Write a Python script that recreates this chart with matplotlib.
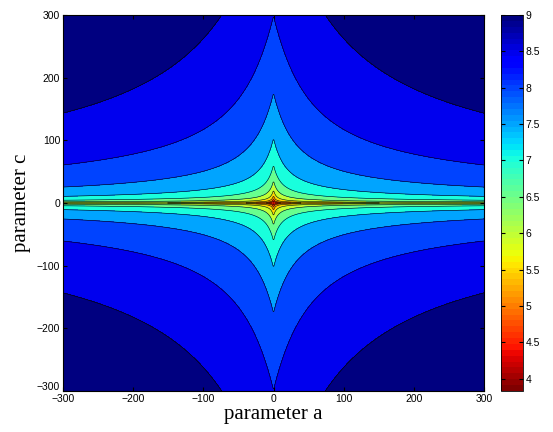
import numpy as np
import matplotlib
matplotlib.use("Agg")
import matplotlib.pyplot as plt
import matplotlib.transforms as mtransforms
from matplotlib.colors import Normalize
from matplotlib.cm import ScalarMappable

# surface: f = K_C*ln|c| + K_A*ln(|a| + MIX*|c|) + OFFSET
K_C, K_A, MIX, OFFSET = 0.571, 0.37, 0.0876, 3.539
VMIN, VMAX = 3.83, 9.0
levels = [VMIN, 4, 4.5, 5, 5.5, 6, 6.5, 7, 7.5, 8, 8.5, 9]
ticks = [-300, -200, -100, 0, 100, 200, 300]
cbar_ticks = [4, 4.5, 5, 5.5, 6, 6.5, 7, 7.5, 8, 8.5, 9]

a = np.linspace(-300, 300, 600)
c = np.linspace(-300, 300, 600)
A, C = np.meshgrid(a, c)
Z = K_C*np.log(np.abs(C)) + K_A*np.log(np.abs(A) + MIX*np.abs(C)) + OFFSET
Z = np.clip(Z, VMIN + 1e-6, VMAX - 1e-6)

cmap = plt.get_cmap("jet", 64).reversed()
norm = Normalize(VMIN, VMAX)
band_colors = [cmap(norm(hi)) for hi in levels[1:]]

fig = plt.figure(figsize=(5.53, 4.32), dpi=100)
ax = fig.add_axes([63/553, 41/432, 421/553, 376/432])
ax.contourf(A, C, Z, levels=levels, colors=band_colors)
ax.contour(A, C, Z, levels=levels[1:-1], colors="k", linewidths=0.4)
ax.set_xlim(-300, 300); ax.set_ylim(-300, 300)
ax.set_xticks(ticks); ax.set_yticks(ticks)
ax.tick_params(direction="in", top=True, right=True, labelsize=7.5, length=3, pad=2)
for lab in ax.get_xticklabels() + ax.get_yticklabels():
    lab.set_family(["Liberation Sans", "DejaVu Sans"])
# MATLAB lifts the lowest y label clear of the x label
low = ax.get_yticklabels()[0]
low.set_transform(low.get_transform() + mtransforms.ScaledTranslation(0, 5/100, fig.dpi_scale_trans))
ax.set_xlabel("parameter a", family="Liberation Serif", fontsize=15, labelpad=1)
ax.set_ylabel("parameter c", family="Liberation Serif", fontsize=15, labelpad=4)

cax = fig.add_axes([501/553, 41/432, 22/553, 376/432])
cb = fig.colorbar(ScalarMappable(norm=norm, cmap=cmap), cax=cax, ticks=cbar_ticks)
cb.ax.tick_params(direction="in", left=True, right=True, labelsize=7.5, length=3, pad=2)
cb.ax.set_yticklabels([f"{t:g}" for t in cbar_ticks], family=["Liberation Sans", "DejaVu Sans"])
cb.outline.set_linewidth(0.6)

plt.savefig("out.png", dpi=100)
plt.close()
